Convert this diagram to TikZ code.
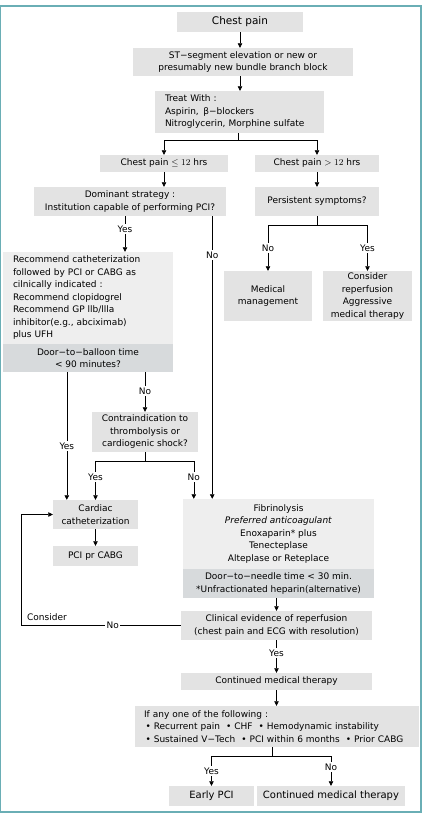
\documentclass[tikz,border=0pt]{standalone}
\usepackage{fontspec}
\setmainfont{DejaVu Sans}
\usetikzlibrary{arrows.meta,calc}
\definecolor{boxg}{HTML}{E3E3E3}
\definecolor{boxd}{HTML}{D7DADC}
\definecolor{boxl}{HTML}{EEEEEE}
\definecolor{frameteal}{HTML}{6AAEB5}
\begin{document}
\begin{tikzpicture}[x=1pt,y=-1pt,
  bx/.style={fill=boxg, inner sep=0pt, align=center, font=\fontsize{9}{12.5}\selectfont},
  arr/.style={-{Triangle[length=4.5pt,width=4.5pt]}, line width=0.6pt},
  ln/.style={line width=0.6pt},
  lbl/.style={fill=white, inner sep=1.5pt, font=\fontsize{9}{10}\selectfont}]
\useasboundingbox (0,0) rectangle (425,821);
\draw[frameteal, line width=1.3pt] (0.6,6) rectangle (421,812);
% nodes
\node[bx, minimum width=126pt, minimum height=20pt, font=\fontsize{10.5}{12}\selectfont] (title) at (240,22) {Chest pain};
\node[bx, minimum width=220pt, minimum height=28pt] (st) at (243,62) {ST−segment elevation or new or\\presumably new bundle branch block};
\node[bx, text width=149pt, inner xsep=10pt, minimum height=42pt, align=left] (treat) at (239.5,112) {Treat With :\\Aspirin,\, β−blockers\\Nitroglycerin, Morphine sulfate};
\node[bx, minimum width=128pt, minimum height=17pt] (le12) at (164,163.5) {Chest pain $\leq 12\ \mathrm{hrs}$};
\node[bx, minimum width=124pt, minimum height=17pt] (gt12) at (317,163.5) {Chest pain $> 12\ \mathrm{hrs}$};
\node[bx, minimum width=192pt, minimum height=29pt] (dom) at (130,201.5) {Dominant strategy :\\Institution capable of performing PCI?};
\node[bx, minimum width=124pt, minimum height=29pt] (pers) at (317,201.5) {Persistent symptoms?};
\node[bx, minimum width=88pt, minimum height=50pt] (med) at (268,296) {Medical\\management};
\node[bx, minimum width=89pt, minimum height=50pt] (cons) at (367.5,296) {Consider\\reperfusion\\Aggressive\\medical therapy};
\node[bx, fill=boxl, text width=150pt, inner xsep=10pt, minimum height=92pt, align=left] (rec) at (88,298) {Recommend catheterization\\followed by PCI or CABG as\\cilnically indicated :\\Recommend clopidogrel\\Recommend GP llb/llla\\inhibitor(e.g., abciximab)\\plus UFH};
\node[bx, fill=boxd, minimum width=170pt, minimum height=28pt] (door) at (88,358) {Door−to−balloon time\\< 90 minutes?};
\node[bx, minimum width=106pt, minimum height=40pt] (contra) at (145,432) {Contraindication to\\thrombolysis or\\cardiogenic shock?};
\node[bx, minimum width=85pt, minimum height=29pt] (card) at (95.5,514.5) {Cardiac\\catheterization};
\node[bx, minimum width=85pt, minimum height=20pt] (pci) at (95.5,556) {PCI pr CABG};
\node[bx, fill=boxl, minimum width=191pt, minimum height=70pt] (fib) at (278.5,534) {Fibrinolysis\\\textit{Preferred anticoagulant}\\Enoxaparin* plus\\Tenecteplase\\Alteplase or Reteplace};
\node[bx, fill=boxd, minimum width=191pt, minimum height=29pt] (needle) at (278.5,583.5) {Door−to−needle time < 30 min.\\*Unfractionated heparin(alternative)};
\node[bx, minimum width=191pt, minimum height=29pt] (clin) at (276.5,625.5) {Clinical evidence of reperfusion\\(chest pain and ECG with resolution)};
\node[bx, minimum width=191pt, minimum height=17pt] (cmt) at (276.5,681.5) {Continued medical therapy};
\node[bx, text width=266pt, inner xsep=9pt, minimum height=41pt, align=left] (ifany) at (277,726.5) {If any one of the following :\\ \,• Recurrent pain\ \ • CHF\ \ • Hemodynamic instability\\ \,• Sustained V−Tech\ \ • PCI within 6 months\ \ • Prior CABG};
\node[bx, minimum width=85pt, minimum height=20pt, font=\fontsize{10}{12}\selectfont] (early) at (211.5,796) {Early PCI};
\node[bx, minimum width=148pt, minimum height=20pt, font=\fontsize{10}{12}\selectfont] (cmt2) at (331,796) {Continued medical therapy};
% connectors
\draw[arr] (title.south) -- (title.south |- st.north);
\draw[arr] (st.south -| title.south) -- (title.south |- treat.north);
\coordinate (ts) at ($(treat.south)+(-1,7)$);
\draw[ln] (treat.south -| ts) -- (ts);
\draw[arr] (ts) -| (le12.north);
\draw[arr] (ts) -| (gt12.north);
\draw[arr] (le12.south) -- (le12.south |- dom.north);
\draw[arr] (gt12.south) -- (pers.north);
\coordinate (ps) at ($(pers.south)+(0,9)$);
\draw[ln] (pers.south) -- (ps);
\draw[arr] (ps) -| (med.north);
\draw[arr] (ps) -| (cons.north);
\coordinate (dy) at ($(dom.south)+(-5,0)$);
\draw[arr] (dy) -- (dy |- rec.north);
\coordinate (dn) at ($(dom.south east)+(-14,0)$);
\draw[arr] (dn) -- (dn |- fib.north);
\coordinate (dby) at ($(door.south west)+(64,0)$);
\draw[arr] (dby) -- (dby |- card.north);
\coordinate (dbn) at (contra.north |- door.south);
\draw[arr] (dbn) -- (contra.north);
\coordinate (cs) at ($(contra.south)+(0,9)$);
\draw[ln] (contra.south) -- (cs);
\draw[arr] (cs) -| (card.north);
\coordinate (cnx) at ($(fib.north west)+(11,0)$);
\draw[arr] (cs) -| (cnx);
\draw[arr] (card.south) -- (pci.north);
\draw[arr] (clin.north |- needle.south) -- (clin.north);
\draw[arr] (clin.west) -- ++(-160,0) |- (card.west);
\draw[arr] (clin.south) -- (cmt.north);
\draw[arr] (cmt.south) -- (cmt.south |- ifany.north);
\coordinate (is) at ($(ifany.south)+(-5,0)$);
\coordinate (cis) at ($(is)+(0,9)$);
\draw[ln] (is) -- (cis);
\draw[arr] (cis) -| (early.north);
\draw[arr] (cis) -| (cmt2.north);
% labels
\node[lbl] at (med.north |- 0,248) {No};
\node[lbl] at (cons.north |- 0,248) {Yes};
\node[lbl] at (dy |- 0,229) {Yes};
\node[lbl] at (dn |- 0,255) {No};
\node[lbl] at (dby |- 0,446) {Yes};
\node[lbl] at (dbn |- 0,391) {No};
\node[lbl] at (card.north |- 0,477) {Yes};
\node[lbl] at (cnx |- 0,477) {No};
\node[lbl] at ($(clin.west)+(-68,0)$) {No};
\node[font=\fontsize{9}{10}\selectfont, inner sep=0pt] at (47,617) {Consider};
\node[lbl] at (clin.south |- 0,653) {Yes};
\node[lbl] at (early.north |- 0,771) {Yes};
\node[lbl] at (cmt2.north |- 0,767) {No};
\end{tikzpicture}
\end{document}
